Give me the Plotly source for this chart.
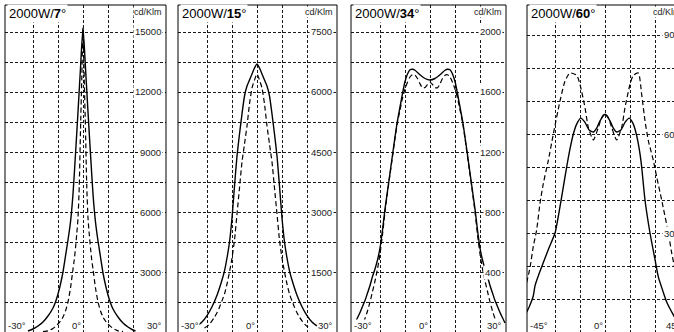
import plotly.graph_objects as go

FIG_W, FIG_H = 674, 332
FONT = "Liberation Sans, Arial, Helvetica, sans-serif"

# ---------------- 2000W / 7° ----------------
ang7_a = [-22, -20, -18, -16, -14, -12, -11, -10, -9, -8, -7, -6, -5, -4, -3, -2, -1, 0,
          1, 2, 3, 4, 5, 6, 7, 8, 9, 10, 11, 12, 14, 16, 18, 20, 21]
cd7_a = [50, 150, 300, 500, 800, 1200, 1500, 1900, 2400, 3000, 3800, 4600, 5500, 6900, 8900, 11000, 13200, 15200,
         13200, 11000, 8900, 6900, 5500, 4550, 3750, 2950, 2350, 1850, 1450, 1150, 750, 450, 250, 100, 50]
ang7_b = [-16, -14, -13, -12, -11, -10, -9, -8, -7, -6, -5, -4, -3.5, -3, -2.5, -2, -1.5, -1, -0.5, 0,
          0.5, 1, 1.5, 2, 2.5, 3, 3.5, 4, 5, 6, 7, 8, 9, 10, 11, 12, 13, 14, 16]
cd7_b = [20, 60, 110, 180, 280, 400, 550, 750, 1050, 1500, 2200, 3150, 3600, 4200, 4900, 5700, 7300, 10100, 12600, 15200,
         12600, 10100, 7300, 5700, 4900, 4200, 3600, 3150, 2200, 1500, 1050, 750, 550, 400, 280, 180, 110, 60, 20]
grid7 = [1500, 3000, 4500, 6000, 7500, 9000, 10500, 12000, 13500, 15000]
lab7 = [3000, 6000, 9000, 12000, 15000]

# ---------------- 2000W / 15° ----------------
ang15_a = [-24, -22, -20, -18, -16, -14, -13, -12, -11, -10, -9, -8, -7, -6, -5, -4, -3, -2, -1, 0,
           1, 2, 3, 4, 5, 6, 7, 8, 9, 10, 11, 12, 13, 14, 16, 18, 20, 22, 24]
cd15_a = [150, 250, 410, 630, 920, 1300, 1530, 1850, 2250, 2850, 3650, 4400, 4950, 5450, 5900, 6150, 6300, 6450, 6600, 6700,
          6600, 6450, 6300, 6150, 5900, 5450, 4950, 4400, 3650, 2850, 2250, 1850, 1530, 1300, 920, 630, 410, 250, 150]
ang15_b = [-21, -20, -19, -18, -17, -16, -15, -14, -13, -12, -11, -10, -9, -8, -7, -6, -5, -4, -3, -2, -1, 0,
           1, 2, 3, 4, 5, 6, 7, 8, 9, 10, 11, 12, 13, 14, 15, 16, 17, 18, 19, 20, 21]
cd15_b = [100, 140, 200, 280, 370, 480, 620, 780, 950, 1200, 1500, 1850, 2300, 2950, 3600, 4250, 4700, 5150, 5700, 6100, 6300, 6450,
          6300, 6100, 5700, 5150, 4700, 4250, 3600, 2950, 2300, 1850, 1500, 1200, 950, 780, 620, 480, 370, 280, 200, 140, 100]
grid15 = [750, 1500, 2250, 3000, 3750, 4500, 5250, 6000, 6750, 7500]
lab15 = [1500, 3000, 4500, 6000, 7500]

# ---------------- 2000W / 34° ----------------
ang34_a = [-30, -29, -28, -27, -26, -25, -24, -23, -22, -21, -20, -19, -18, -17, -16, -15, -14, -13, -12, -11, -10,
           -9, -8, -7, -6, -4, -2, 0, 2, 4, 6, 7, 8, 9,
           10, 11, 12, 13, 14, 15, 16, 17, 18, 19, 20, 21, 22, 23, 24, 25, 26, 27, 28, 29, 30]
cd34_a = [60, 95, 130, 170, 210, 260, 310, 370, 420, 480, 560, 680, 820, 940, 1060, 1180, 1300, 1410, 1500, 1590, 1670,
          1720, 1748, 1752, 1745, 1715, 1690, 1680, 1690, 1715, 1745, 1752, 1748, 1720,
          1670, 1590, 1500, 1410, 1300, 1180, 1060, 940, 820, 680, 560, 480, 420, 370, 310, 260, 210, 170, 130, 95, 60]
ang34_b = [-28, -27, -26, -25, -24, -23, -22, -21, -20, -19, -18, -17, -16, -15, -14, -13, -12, -11, -10,
           -9, -8, -7, -6, -5, -4, -3, -2, -1, 0, 1, 2, 3, 4, 5, 6, 7, 8, 9,
           10, 11, 12, 13, 14, 15, 16, 17, 18, 19, 20, 21, 22, 23, 24, 25, 26, 27, 28]
cd34_b = [20, 50, 90, 140, 200, 270, 340, 420, 520, 650, 800, 930, 1050, 1170, 1290, 1400, 1480, 1560, 1620,
          1665, 1700, 1715, 1712, 1690, 1655, 1628, 1630, 1650, 1665, 1650, 1630, 1628, 1655, 1690, 1712, 1715, 1700, 1665,
          1620, 1560, 1480, 1400, 1290, 1170, 1050, 930, 800, 650, 520, 420, 340, 270, 200, 140, 90, 50, 20]
grid34 = [200, 400, 600, 800, 1000, 1200, 1400, 1600, 1800, 2000]
lab34 = [400, 800, 1200, 1600, 2000]

# ---------------- 2000W / 60° ----------------
ang60_a = [-47, -45, -43, -42, -40, -38, -34, -30, -27, -25, -23, -21, -19, -17, -14.5, -12, -9.5, -7, -5, -3, 0,
           3, 5, 7, 9.5, 12, 14.5, 17, 19, 21, 22, 24, 27, 30, 32, 35, 37, 41, 43]
cd60_a = [60, 82, 110, 140, 170, 197, 250, 300, 380, 440, 500, 555, 600, 630, 648, 635, 612, 606, 618, 640, 660,
          640, 618, 606, 612, 635, 648, 630, 595, 540, 500, 400, 300, 220, 167, 120, 91, 52, 35]
ang60_b = [-47, -45, -43, -41, -39, -37, -34, -31, -27, -24, -21, -17, -15, -12, -10, -7, -4, -2, 0,
           2, 4, 7, 10, 12, 15, 17, 20, 22, 24, 26, 29, 31, 34, 38, 40, 42]
cd60_b = [150, 195, 260, 310, 390, 450, 520, 600, 700, 760, 785, 778, 750, 680, 620, 582, 620, 650, 662,
          650, 620, 582, 620, 680, 750, 778, 785, 720, 640, 580, 520, 470, 400, 300, 240, 190]
grid60 = [100, 200, 300, 400, 500, 600, 700, 800, 900]
lab60 = [300, 600, 900]

# frame geometry in pixels: centre line (0°), left/right half widths, pixels per degree,
# and pixels per intensity unit (zero sits on the bottom edge)
panels = [
    dict(beam="7", a=(ang7_a, cd7_a), b=(ang7_b, cd7_b), grid=grid7, labels=lab7, ppu=0.02,
         xgrid=[-20, -10, 0, 10, 20], edge="30", center=83, half_l=78, half_r=83, ppd=2.5),
    dict(beam="15", a=(ang15_a, cd15_a), b=(ang15_b, cd15_b), grid=grid15, labels=lab15, ppu=0.04,
         xgrid=[-20, -10, 0, 10, 20], edge="30", center=257, half_l=79, half_r=80, ppd=2.5),
    dict(beam="34", a=(ang34_a, cd34_a), b=(ang34_b, cd34_b), grid=grid34, labels=lab34, ppu=0.15,
         xgrid=[-20, -10, 0, 10, 20], edge="30", center=430, half_l=79, half_r=76, ppd=2.5),
    dict(beam="60", a=(ang60_a, cd60_a), b=(ang60_b, cd60_b), grid=grid60, labels=lab60, ppu=0.33,
         xgrid=[-30, -15, 0, 15, 30], edge="45", center=605, half_l=78, half_r=80, ppd=25 / 15),
]

fig = go.Figure()
layout = {}
annotations = []
shapes = []
TOP = 5  # pixel row of the frame top
BOTTOM = FIG_H

for i, p in enumerate(panels, start=1):
    xa, ya = ("x", "y") if i == 1 else (f"x{i}", f"y{i}")
    left = p["center"] - p["half_l"]
    right = p["center"] + p["half_r"]
    vis_right = min(right, FIG_W)
    x0 = (left - p["center"]) / p["ppd"]
    x1 = (vis_right - p["center"]) / p["ppd"]
    ymax = (BOTTOM - TOP) / p["ppu"]

    layout[f"xaxis{'' if i == 1 else i}"] = dict(
        domain=[left / FIG_W, vis_right / FIG_W], range=[x0, x1], anchor=ya,
        tickvals=p["xgrid"], showticklabels=False, ticks="", zeroline=False, showline=False,
        showgrid=True, gridcolor="#1a1a1a", gridwidth=1, griddash="3px,2px", fixedrange=True)
    layout[f"yaxis{'' if i == 1 else i}"] = dict(
        domain=[0, (FIG_H - TOP) / FIG_H], range=[0, ymax], anchor=xa,
        tickvals=p["grid"], showticklabels=False, ticks="", zeroline=False, showline=False,
        showgrid=True, gridcolor="#1a1a1a", gridwidth=1, griddash="3px,2px", fixedrange=True)

    # measured curves: solid and dashed planes
    fig.add_trace(go.Scatter(x=p["a"][0], y=p["a"][1], mode="lines", xaxis=xa, yaxis=ya,
                             line=dict(color="black", width=1.4, shape="spline", smoothing=0.6),
                             hoverinfo="skip", showlegend=False))
    fig.add_trace(go.Scatter(x=p["b"][0], y=p["b"][1], mode="lines", xaxis=xa, yaxis=ya,
                             line=dict(color="black", width=1.2, dash="5px,3px", shape="spline", smoothing=0.6),
                             hoverinfo="skip", showlegend=False))

    # frame (left, top, right)
    shapes.append(dict(type="rect", xref=f"{xa} domain", yref=f"{ya} domain",
                       x0=0, x1=1 if right <= FIG_W else 1.2, y0=-0.05, y1=1,
                       line=dict(color="black", width=1), fillcolor="rgba(0,0,0,0)", layer="above"))

    # title
    annotations.append(dict(xref="paper", yref="paper", x=(left + 2) / FIG_W, y=1 - (TOP + 8) / FIG_H,
                            xanchor="left", yanchor="middle", showarrow=False, bgcolor="white", borderpad=1,
                            text=f"2000W/<b>{p['beam']}</b>°", font=dict(family=FONT, size=13, color="black")))
    # unit
    annotations.append(dict(xref="paper", yref="paper", x=(right - 3) / FIG_W, y=1 - (TOP + 7) / FIG_H,
                            xanchor="right", yanchor="middle", showarrow=False, bgcolor="white", borderpad=0,
                            text="cd/Klm", font=dict(family=FONT, size=9, color="#222")))
    # intensity labels
    for v in p["labels"]:
        annotations.append(dict(xref="paper", yref=ya, x=(right - 3) / FIG_W, y=v,
                                xanchor="right", yanchor="middle", showarrow=False, bgcolor="white", borderpad=1,
                                text=str(v), font=dict(family=FONT, size=9.5, color="#222")))
    # angle labels
    ylab = (FIG_H - 325) / FIG_H
    annotations.append(dict(xref="paper", yref="paper", x=(left + 2) / FIG_W, y=ylab,
                            xanchor="left", yanchor="middle", showarrow=False, bgcolor="white", borderpad=0,
                            text=f"-{p['edge']}°", font=dict(family=FONT, size=9.5, color="#222")))
    annotations.append(dict(xref="paper", yref="paper", x=(p["center"] - 1) / FIG_W, y=ylab,
                            xanchor="right", yanchor="middle", showarrow=False, bgcolor="white", borderpad=0,
                            text="0°", font=dict(family=FONT, size=9.5, color="#222")))
    annotations.append(dict(xref="paper", yref="paper", x=(right - 3) / FIG_W, y=ylab,
                            xanchor="right", yanchor="middle", showarrow=False, bgcolor="white", borderpad=0,
                            text=f"{p['edge']}°", font=dict(family=FONT, size=9.5, color="#222")))

fig.update_layout(**layout)
fig.update_layout(width=FIG_W, height=FIG_H, margin=dict(l=0, r=0, t=0, b=0),
                  paper_bgcolor="white", plot_bgcolor="white",
                  annotations=annotations, shapes=shapes, showlegend=False,
                  font=dict(family=FONT))

fig.write_html("out.html", config=dict(displayModeBar=False, staticPlot=True))
